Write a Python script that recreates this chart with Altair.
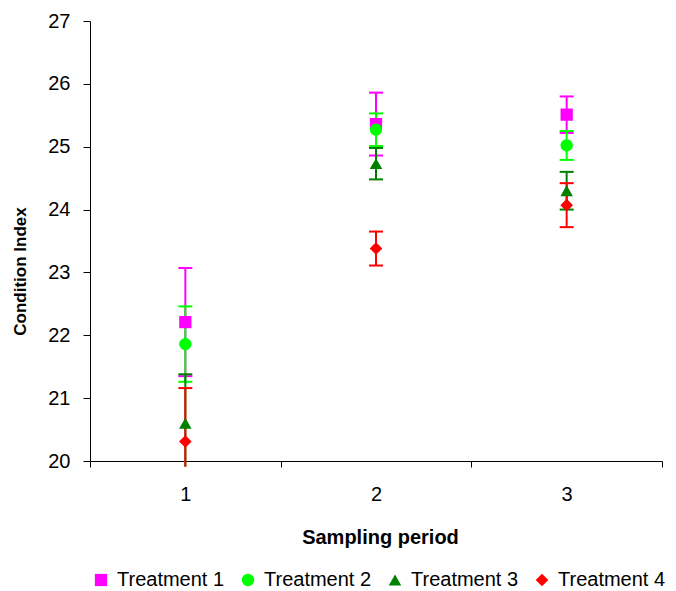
import altair as alt
import pandas as pd

# Sampling periods and treatment series
periods = [1, 2, 3]
treatments = ["Treatment 1", "Treatment 2", "Treatment 3", "Treatment 4"]
colors = ["#FF00FF", "#00FF00", "#008000", "#FF0000"]
shapes = ["square", "circle", "triangle-up", "diamond"]
marker_sizes = [150, 160, 210, 190]

# Mean condition index per sampling period
t1_mean = [22.21, 25.36, 25.51]
t2_mean = [21.86, 25.27, 25.02]
t3_mean = [20.60, 24.73, 24.30]
t4_mean = [20.31, 23.38, 24.07]

# Error bar half-lengths
t1_err = [0.86, 0.50, 0.29]
t2_err = [0.60, 0.26, 0.23]
t3_err = [0.78, 0.25, 0.30]
t4_err = [0.85, 0.27, 0.35]

means = [t1_mean, t2_mean, t3_mean, t4_mean]
errs = [t1_err, t2_err, t3_err, t4_err]

rows = []
for name, m_list, e_list in zip(treatments, means, errs):
    for p, m, e in zip(periods, m_list, e_list):
        rows.append({"period": p, "treatment": name, "mean": m, "err": e})
df = pd.DataFrame(rows)

FONT = "Liberation Sans"
Y_MIN, Y_MAX = 20, 27

x_enc = alt.X(
    "period:Q",
    scale=alt.Scale(domain=[0.5, 3.5], nice=False, zero=False),
    axis=alt.Axis(
        values=[0.5, 1, 1.5, 2, 2.5, 3, 3.5],
        labelExpr="datum.value % 1 === 0 ? '' + datum.value : ''",
        tickOpacity={"condition": {"test": "datum.value % 1 === 0", "value": 0}, "value": 1},
        title="Sampling period",
        grid=False,
        tickSize=6,
        labelPadding=17,
        titleX=290,
        titleY=82,
        titleBaseline="alphabetic",
        titleAnchor="middle",
        titleAlign="center",
        titleFontSize=20,
    ),
)

y_scale = alt.Scale(domain=[Y_MIN, Y_MAX], nice=False, zero=False)
y_axis = alt.Axis(
    values=list(range(Y_MIN, Y_MAX + 1)),
    title="Condition Index",
    grid=False,
    tickSize=7,
    labelPadding=13,
    titleX=-70,
    titleY=250,
    titleAngle=-90,
    titleAlign="center",
    titleBaseline="middle",
    titleFontSize=17,
)

color_scale = alt.Scale(domain=treatments, range=colors)
shape_scale = alt.Scale(domain=treatments, range=shapes)
size_scale = alt.Scale(domain=treatments, range=marker_sizes)

legend = alt.Legend(
    title=None,
    orient="none",
    direction="horizontal",
    columns=4,
    legendX=1,
    legendY=549,
    padding=0,
    symbolSize=110,
    symbolStrokeWidth=0,
    symbolOpacity=1,
    labelOffset=6,
    columnPadding=13,
    labelFontSize=20,
    labelFont=FONT,
    labelColor="black",
)

base = alt.Chart(df).transform_calculate(
    lo="datum.mean - datum.err",
    hi="datum.mean + datum.err",
    lo_drawn="max(datum.mean - datum.err, 19.91)",
)

# Error bars, one series at a time so later series sit on top
layers = []
for name, col in zip(treatments, colors):
    sub = base.transform_filter(alt.datum.treatment == name)
    bars = sub.mark_rule(strokeWidth=2, opacity=1, color=col).encode(
        x=x_enc,
        y=alt.Y("lo_drawn:Q", scale=y_scale, axis=y_axis),
        y2="hi:Q",
    )
    cap_top = sub.mark_tick(
        orient="horizontal", size=14, thickness=2, opacity=1, color=col
    ).encode(
        x=x_enc,
        y=alt.Y("hi:Q", scale=y_scale, axis=y_axis),
    )
    cap_bottom = sub.transform_filter("datum.lo >= 20").mark_tick(
        orient="horizontal", size=14, thickness=2, opacity=1, color=col
    ).encode(
        x=x_enc,
        y=alt.Y("lo:Q", scale=y_scale, axis=y_axis),
    )
    layers += [bars, cap_top, cap_bottom]

# Markers for all series, with the legend
pts = base.mark_point(filled=True, opacity=1).encode(
    x=x_enc,
    y=alt.Y("mean:Q", scale=y_scale, axis=y_axis),
    color=alt.Color("treatment:N", scale=color_scale, legend=legend),
    shape=alt.Shape("treatment:N", scale=shape_scale, legend=legend),
    size=alt.Size("treatment:N", scale=size_scale, legend=None),
)
layers.append(pts)

chart = alt.layer(*layers).properties(
    width=572,
    height=440,
    background="white",
    autosize=alt.AutoSizeParams(type="none"),
    padding={"left": 90, "top": 21, "right": 14, "bottom": 130},
).configure_view(
    stroke=None
).configure_axis(
    domainColor="black",
    domainWidth=1,
    tickColor="black",
    tickWidth=1,
    labelColor="black",
    labelFont=FONT,
    labelFontSize=20,
    titleColor="black",
    titleFont=FONT,
    titleFontWeight="bold",
)

chart.save("out.html", embed_options={"renderer": "svg", "actions": False})
